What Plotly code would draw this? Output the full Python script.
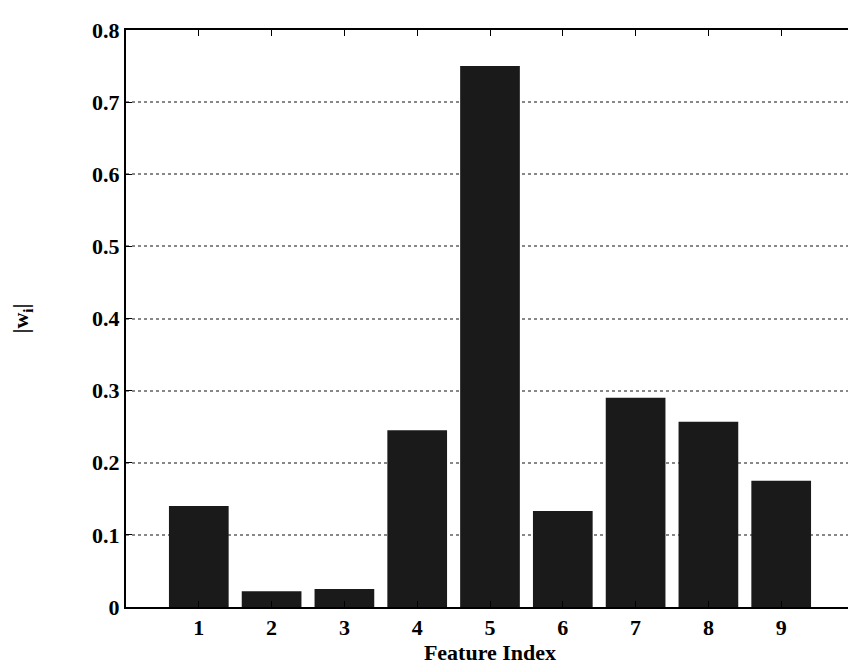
import plotly.graph_objects as go

features = [1, 2, 3, 4, 5, 6, 7, 8, 9]
weights = [0.14, 0.022, 0.025, 0.245, 0.75, 0.133, 0.29, 0.257, 0.175]
y_ticks = [0, 0.1, 0.2, 0.3, 0.4, 0.5, 0.6, 0.7, 0.8]
y_tick_labels = ["0", "0.1", "0.2", "0.3", "0.4", "0.5", "0.6", "0.7", "0.8"]

fig = go.Figure(go.Bar(x=features, y=weights, width=0.82,
                       marker=dict(color="#1a1a1a", line=dict(width=0))))

font = dict(family="Liberation Serif", size=22, color="black")
fig.update_layout(
    width=856, height=669,
    margin=dict(l=118, r=8, t=22, b=70),
    paper_bgcolor="white", plot_bgcolor="white",
    font=font, showlegend=False,
    xaxis=dict(range=[0, 10], tickvals=features, ticktext=[f"<b>{f}</b>" for f in features],
               showline=True, linecolor="black", linewidth=2, mirror="ticks",
               ticks="inside", ticklen=6, tickcolor="black", showgrid=False,
               title=dict(text="<b>Feature Index</b>", font=dict(size=22), standoff=4)),
    yaxis=dict(range=[0, 0.8], tickvals=y_ticks, ticktext=[f"<b>{t}</b>" for t in y_tick_labels],
               showline=True, linecolor="black", linewidth=2, mirror="ticks",
               ticks="inside", ticklen=6, tickcolor="black",
               showgrid=True, gridcolor="#888", griddash="dot", gridwidth=1.5,
               zeroline=False,
               title=dict(text="<b>|w<sub>i</sub>|</b>", font=dict(size=22), standoff=58)),
)
fig.write_html("out.html")
